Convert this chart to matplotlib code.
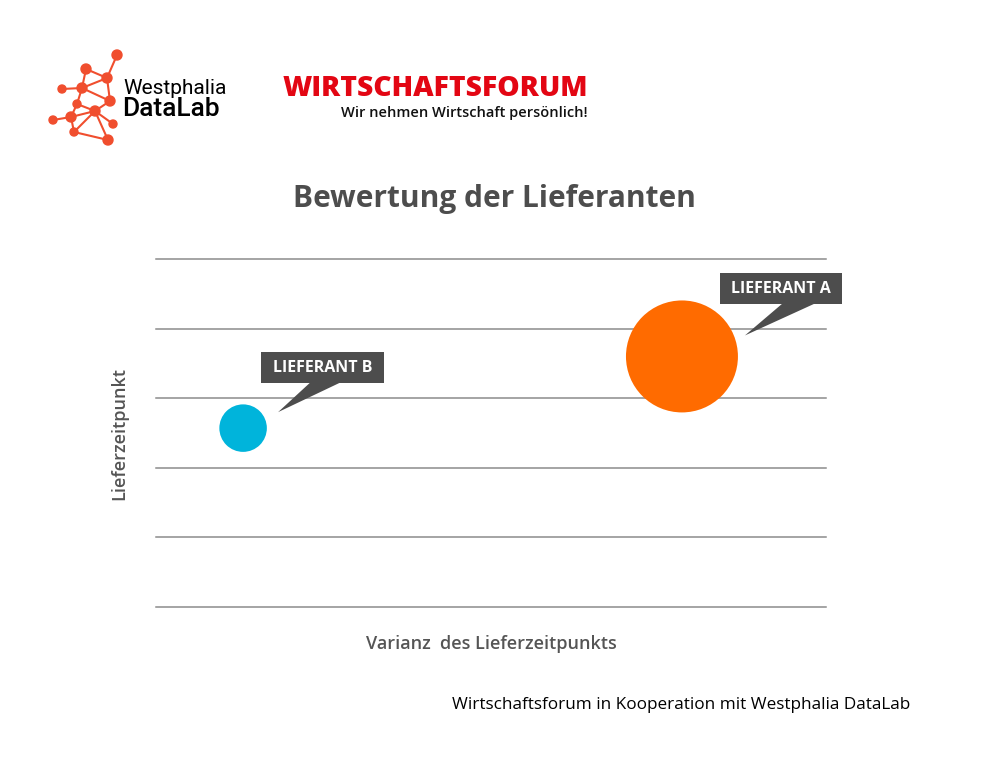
import matplotlib
matplotlib.use("Agg")
import matplotlib.pyplot as plt
from matplotlib.patches import Rectangle, Polygon
from matplotlib.transforms import IdentityTransform

# ---- data ----
suppliers = ["LIEFERANT A", "LIEFERANT B"]
varianz = [7.85, 1.3]          # x: Varianz des Lieferzeitpunkts
lieferzeit = [3.6, 2.57]        # y: Lieferzeitpunkt
volumen = [100, 18]             # bubble size
colors = ["#ff6b00", "#00b4db"]
y_ticks = [0, 1, 2, 3, 4, 5]

FONT = "Open Sans"
W, H = 985, 766
fig = plt.figure(figsize=(W / 100, H / 100), dpi=100)
fig.patch.set_facecolor("white")

ax = fig.add_axes([156 / W, 1 - 607 / H, (826 - 156) / W, (607 - 259) / H])
ax.set_xlim(0, 10)
ax.set_ylim(0, 5)
ax.set_yticks(y_ticks)
ax.set_xticks([])
ax.tick_params(left=False, labelleft=False)
for s in ax.spines.values():
    s.set_visible(False)
ax.grid(axis="y", color="#8c8c8c", linewidth=1.1)
ax.set_axisbelow(True)
for gl in ax.get_ygridlines():
    gl.set_clip_on(False)

ax.scatter(varianz, lieferzeit, s=[v * 65 for v in volumen], c=colors,
           edgecolors="none", zorder=3)

ax.set_xlabel("Varianz  des Lieferzeitpunkts", fontsize=13, color="#555555",
              fontweight="semibold", family=FONT, labelpad=20)
ax.set_ylabel("Lieferzeitpunkt", fontsize=13, color="#555555",
              fontweight="semibold", family=FONT, labelpad=20)

fig.text(494 / W, 1 - 199 / H, "Bewertung der Lieferanten", ha="center", va="center",
         fontsize=21.5, fontweight="bold", color="#4d4d4d", family=FONT)

# ---- callout labels (offsets in pixels from bubble centre) ----
fig.canvas.draw()
callouts = {
    "LIEFERANT A": dict(box=(99, 67.5), size=(122, 31), base=(100, 132), tip=(63, 21)),
    "LIEFERANT B": dict(box=(79.5, 60.5), size=(123, 31), base=(67, 97), tip=(35, 16)),
}
for name, x, y in zip(suppliers, varianz, lieferzeit):
    cx, cy = ax.transData.transform((x, y))
    c = callouts[name]
    bx, by = cx + c["box"][0], cy + c["box"][1]
    bw, bh = c["size"]
    fig.add_artist(Rectangle((bx - bw / 2, by - bh / 2), bw, bh, facecolor="#4d4d4d",
                             edgecolor="none", transform=IdentityTransform(), zorder=5))
    base_y = by - bh / 2 + 0.5
    tri = [(cx + c["base"][0], base_y), (cx + c["base"][1], base_y),
           (cx + c["tip"][0], cy + c["tip"][1])]
    fig.add_artist(Polygon(tri, closed=True, facecolor="#4d4d4d", edgecolor="none",
                           transform=IdentityTransform(), zorder=5))
    fig.text(bx, by, name, ha="center", va="center", color="white", fontsize=11.5,
             fontweight="bold", family=FONT, transform=IdentityTransform(), zorder=6)

# ---- logos ----
lax = fig.add_axes([0, 0, 1, 1], zorder=-1)
lax.set_xlim(0, W)
lax.set_ylim(H, 0)
lax.axis("off")
nodes = [(117, 55), (86, 69), (107, 78), (82, 88), (62, 89), (110, 101), (77, 104),
         (95, 111), (53, 120), (71, 117), (113, 124), (74, 132), (108, 140)]
radii = [5, 5, 5, 5, 4, 5, 4, 5, 4, 5, 4, 4, 5]
edges = [(0, 2), (1, 2), (1, 3), (2, 3), (3, 4), (3, 5), (2, 5), (3, 6), (5, 7), (6, 7),
         (7, 9), (9, 8), (7, 10), (7, 11), (9, 11), (11, 12), (7, 12), (9, 6)]
red = "#f04e2e"
for a, b in edges:
    lax.plot([nodes[a][0], nodes[b][0]], [nodes[a][1], nodes[b][1]], color=red, lw=1.5)
for (nx, ny), r in zip(nodes, radii):
    lax.add_patch(plt.Circle((nx, ny), r, color=red))
lax.text(123, 89, "Westphalia", fontsize=15, color="black", family="Roboto",
         va="center", ha="left")
lax.text(122, 109, "DataLab", fontsize=19, color="black", family="Roboto",
         fontweight="medium", va="center", ha="left")

lax.text(283, 88, "WIRTSCHAFTSFORUM", fontsize=20.3, color="#e30613", family=FONT,
         fontweight="heavy", va="center", ha="left")
lax.text(588, 113, "Wir nehmen Wirtschaft persönlich!", fontsize=10.5, color="#111111",
         family=FONT, fontweight="semibold", va="center", ha="right")

fig.text(910 / W, 1 - 705 / H, "Wirtschaftsforum in Kooperation mit Westphalia DataLab",
         ha="right", va="center", fontsize=12.3, color="black", family=FONT)

fig.savefig("out.png", dpi=100, facecolor="white")
